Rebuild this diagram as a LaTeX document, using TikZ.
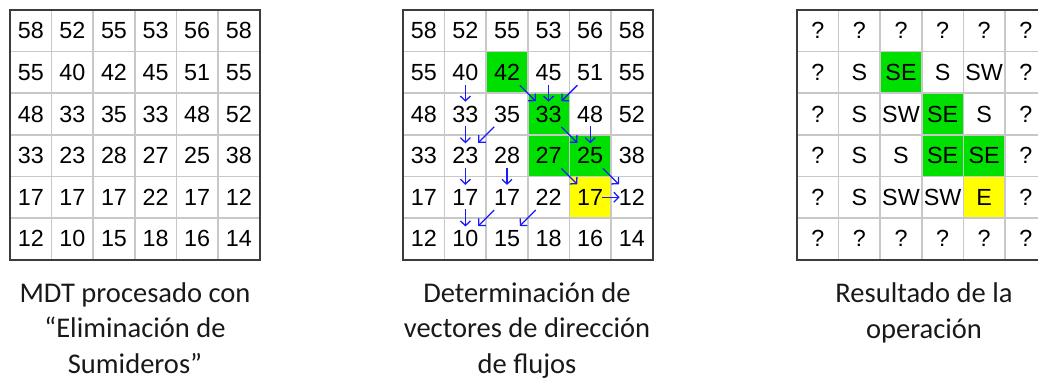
\documentclass[tikz,border=0pt]{standalone}
\usepackage{fontspec}
\setmainfont{Liberation Sans}
\newfontfamily\capfont{Carlito}
\usetikzlibrary{arrows.meta}
\definecolor{cellgreen}{RGB}{0,224,0}
\definecolor{cellyellow}{RGB}{255,255,0}
\definecolor{gridgray}{RGB}{200,200,200}
\definecolor{bordergray}{RGB}{60,60,60}
\definecolor{arrowblue}{RGB}{25,25,255}
\definecolor{captext}{RGB}{25,25,25}
\begin{document}
\begin{tikzpicture}[x=0.75pt,y=-0.75pt,
  cell/.style={minimum width=30pt,minimum height=30pt,inner sep=0pt,
    font=\fontsize{17.5pt}{19pt}\selectfont},
  st-1-2/.style={fill=cellgreen},
  st-2-3/.style={fill=cellgreen},
  st-3-3/.style={fill=cellgreen},
  st-3-4/.style={fill=cellgreen},
  st-4-4/.style={fill=cellyellow},
  inner line/.style={draw=gridgray,line width=1.1pt},
  outer line/.style={draw=bordergray,line width=1.4pt},
  flowstraight/.style={draw=arrowblue,line width=0.95pt,
    -{Straight Barb[length=3.6pt,width=7.5pt]},shorten <=9.2pt,shorten >=9.2pt},
  flowdiag/.style={draw=arrowblue,line width=0.95pt,
    -{Straight Barb[length=3.6pt,width=7.5pt]},shorten <=13.6pt,shorten >=13.6pt},
  caption/.style={font=\capfont\fontsize{21.4pt}{26.3pt}\selectfont,
    text=captext,align=center,anchor=base,inner sep=0pt}]
\useasboundingbox (0,0) rectangle (1038,383);
\clip (0,0) rectangle (1038,383);
\def\cs{41.6}
% grid lines
\foreach \ox in {10,403,797}{
  \foreach \k in {1,...,5}{
    \path[inner line] ({\ox+\k*\cs},10) -- ({\ox+\k*\cs},{10+6*\cs});
    \path[inner line] (\ox,{10+\k*\cs}) -- ({\ox+6*\cs},{10+\k*\cs});
  }
  \path[outer line] (\ox,10) rectangle ({\ox+6*\cs},{10+6*\cs});
}
% grid 1
\foreach \r/\row in {0/{58,52,55,53,56,58},1/{55,40,42,45,51,55},2/{48,33,35,33,48,52},
                     3/{33,23,28,27,25,38},4/{17,17,17,22,17,12},5/{12,10,15,18,16,14}}{
  \foreach \v [count=\c from 0] in \row{
    \node[cell] (a-\r-\c) at ({10+(\c+0.5)*\cs},{10+(\r+0.5)*\cs}) {\v};
  }
}
% grid 2
\foreach \r/\row in {0/{58,52,55,53,56,58},1/{55,40,42,45,51,55},2/{48,33,35,33,48,52},
                     3/{33,23,28,27,25,38},4/{17,17,17,22,17,12},5/{12,10,15,18,16,14}}{
  \foreach \v [count=\c from 0] in \row{
    \node[cell,st-\r-\c/.try] (b-\r-\c) at ({403+(\c+0.5)*\cs},{10+(\r+0.5)*\cs}) {\v};
  }
}
% grid 3
\foreach \r/\row in {0/{?,?,?,?,?,?},1/{?,S,SE,S,SW,?},2/{?,S,SW,SE,S,?},
                     3/{?,S,S,SE,SE,?},4/{?,S,SW,SW,E,?},5/{?,?,?,?,?,?}}{
  \foreach \v [count=\c from 0] in \row{
    \node[cell,st-\r-\c/.try] (c-\r-\c) at ({797+(\c+0.5)*\cs},{10+(\r+0.5)*\cs}) {\v};
  }
}
% flow vectors
\foreach \a/\b in {1-1/2-1,1-3/2-3,2-1/3-1,2-4/3-4,3-1/4-1,3-2/4-2,4-1/5-1,4-4/4-5}{
  \draw[flowstraight] (b-\a.center) -- (b-\b.center);
}
\foreach \a/\b in {1-2/2-3,2-3/3-4,3-3/4-4,3-4/4-5,1-4/2-3,2-2/3-1,4-2/5-1,4-3/5-2}{
  \draw[flowdiag] (b-\a.center) -- (b-\b.center);
}
% captions (base anchor = baseline of the last line)
\node[caption] (cap1) at (135,373) {MDT procesado con\\“Eliminación de\\Sumideros”};
\node[caption] (cap2) at (527,373) {Determinación de\\vectores de dirección\\de flujos};
\node[caption] (cap3) at (924,338) {Resultado de la\\operación};
\end{tikzpicture}
\end{document}
